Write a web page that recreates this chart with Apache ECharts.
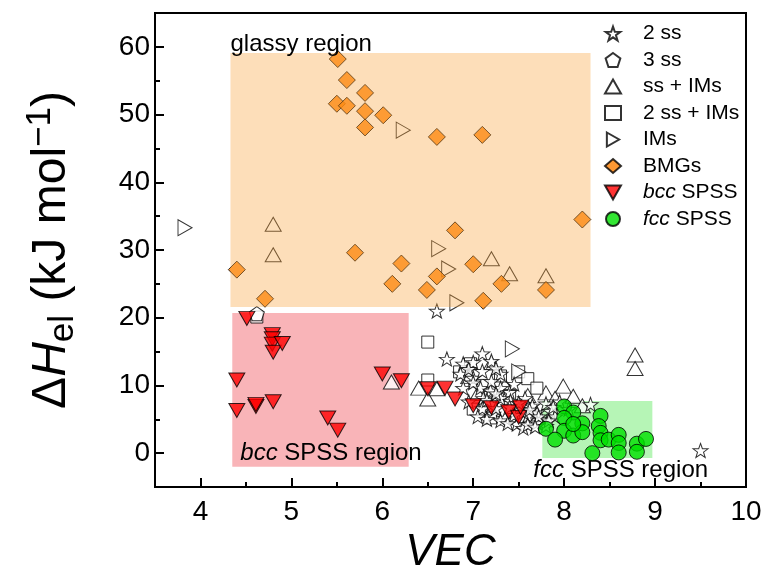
<!DOCTYPE html>
<html>
<head>
<meta charset="utf-8">
<script src="https://cdn.jsdelivr.net/npm/echarts@6/dist/echarts.min.js"></script>
<style>
  html, body { margin: 0; padding: 0; background: #fff; }
  #chart { width: 764px; height: 584px; }
</style>
</head>
<body>
<div id="chart"></div>
<script>
// VEC (x) and elastic enthalpy ΔH_el in kJ/mol (y) for each alloy class
const twoSS = [
  [6.60, 21.0], [6.71, 13.9], [9.50, 0.4], [8.29, 7.2],
  [7.10, 14.7], [6.89, 13.2], [7.00, 13.4], [7.20, 13.6], [6.86, 11.7], [7.00, 11.1],
  [7.10, 12.1], [7.30, 11.7], [6.95, 12.4], [7.25, 12.5],
  [6.89, 9.6], [7.08, 9.6], [7.19, 9.2], [7.30, 9.6], [7.00, 10.4], [7.20, 10.6],
  [7.40, 9.0], [7.45, 10.2], [7.11, 8.1], [7.30, 8.1], [7.41, 7.7], [7.57, 8.1],
  [6.95, 7.6], [7.10, 6.6], [7.20, 7.2], [7.22, 5.8], [7.35, 5.2], [7.48, 4.3],
  [7.55, 3.7], [7.30, 4.8], [7.05, 5.4], [7.50, 6.5], [7.60, 5.5], [7.65, 7.0],
  [7.70, 6.0], [7.75, 5.0], [7.80, 7.3], [7.85, 6.2], [7.90, 5.4], [7.70, 4.5],
  [7.60, 4.2], [7.95, 7.6], [8.05, 6.5], [7.80, 4.0], [7.55, 6.0], [7.40, 6.8],
  [7.15, 7.8], [7.25, 6.6], [7.45, 5.6], [7.62, 6.4], [7.72, 5.4], [7.83, 4.8],
  [7.68, 3.9], [7.38, 4.4], [7.15, 5.0], [7.50, 7.4], [7.88, 6.8], [7.25, 8.8]
];
const threeSS = [[4.62, 20.6]];
const ssIMs = [
  [4.80, 33.8], [4.80, 29.3], [7.20, 28.7], [7.40, 26.5], [7.80, 26.2],
  [8.78, 14.5], [8.78, 12.5], [6.10, 10.5], [6.40, 9.6], [6.50, 8.0], [6.60, 9.5],
  [7.20, 13.3], [6.95, 11.3], [7.99, 9.9], [7.80, 8.9], [8.10, 8.4], [7.90, 8.1],
  [7.35, 10.0], [7.60, 8.5], [7.05, 8.8], [8.20, 7.0]
];
const twoSSIMs = [
  [4.62, 20.1], [6.50, 16.4], [6.50, 10.8], [6.97, 13.2], [7.30, 11.4], [7.50, 12.0],
  [7.60, 11.0], [7.70, 9.6], [7.00, 6.5], [7.19, 5.2], [7.10, 10.0], [6.85, 12.0], [7.40, 8.5]
];
const ims = [
  [3.83, 33.3], [6.23, 47.7], [6.62, 30.2], [6.73, 27.2], [6.82, 22.2], [7.43, 15.4], [7.50, 12.0]
];
const bmgs = [
  [5.51, 58.2], [5.61, 55.1], [5.81, 53.2], [5.50, 51.6], [5.61, 51.3], [5.81, 50.5],
  [6.01, 49.9], [5.81, 48.1], [6.60, 46.7], [7.10, 47.0], [8.20, 34.5], [6.80, 32.9],
  [5.70, 29.6], [4.40, 27.1], [4.71, 22.8], [6.21, 28.0], [6.11, 25.0], [6.60, 26.1],
  [6.49, 24.1], [7.00, 27.9], [7.31, 25.0], [7.80, 24.1], [7.11, 22.5]
];
const bccSPSS = [
  [4.51, 19.9], [4.79, 17.5], [4.79, 16.9], [4.79, 16.1], [4.80, 14.9], [4.90, 16.2],
  [4.40, 10.8], [4.40, 6.3], [4.61, 6.9], [4.61, 7.2], [4.80, 7.6], [5.40, 5.2],
  [5.51, 3.4], [6.00, 11.7], [6.21, 10.7], [6.50, 9.5], [6.69, 9.6], [6.80, 8.0],
  [7.00, 7.0], [7.20, 6.7], [7.39, 6.1], [7.50, 5.3], [7.52, 6.8]
];
const fccSPSS = [
  [8.00, 6.9], [8.10, 6.0], [8.00, 5.2], [8.20, 4.4], [7.80, 3.6], [8.00, 3.3],
  [8.10, 2.6], [7.90, 2.0], [8.20, 3.1], [8.40, 5.5], [8.38, 4.0], [8.40, 3.0],
  [8.40, 1.9], [8.49, 2.0], [8.60, 2.7], [8.60, 1.5], [8.60, 0.1], [8.31, 0.0],
  [8.80, 1.4], [8.80, 0.2], [8.90, 2.1], [8.10, 4.3]
];

// shaded regions: [corner, opposite corner] in data units
const glassyRegion = [[4.33, 59.1], [8.29, 21.6]];
const bccRegion = [[4.35, 20.7], [6.29, -2.0]];
const fccRegion = [[7.76, 7.7], [8.97, -0.7]];

// axis ticks
const xMajorTicks = [4, 5, 6, 7, 8, 9, 10];
const xMinorTicks = [4.5, 5.5, 6.5, 7.5, 8.5, 9.5];
const yMajorTicks = [0, 10, 20, 30, 40, 50, 60];
const yMinorTicks = [5, 15, 25, 35, 45, 55];

const FONT = "Arial, 'Liberation Sans', sans-serif";
const STAR = 'path://M50 0 L61.76 33.82 L97.55 34.55 L69.02 56.18 L79.39 90.45 L50 70 L20.61 90.45 L30.98 56.18 L2.45 34.55 L38.24 33.82 Z';
const PENTAGON = 'path://M50 0 L97.55 34.55 L79.39 90.45 L20.61 90.45 L2.45 34.55 Z';
const RIGHT_TRI = 'path://M0 0 L100 57 L0 114 Z';
const DOWN_TRI = 'path://M0 0 L114 0 L57 100 Z';
const open = { color: '#ffffff', borderColor: '#000000', borderWidth: 1 };

const chart = echarts.init(document.getElementById('chart'), null, { renderer: 'canvas' });

const axisCommon = {
  type: 'value',
  axisLine: { show: true, onZero: false, lineStyle: { color: '#000', width: 2 } },
  splitLine: { show: false },
  axisLabel: { show: true, color: '#000', fontFamily: FONT, fontSize: 28 }
};

chart.setOption({
  animation: false,
  backgroundColor: '#ffffff',
  grid: {
    left: 155, right: 18, top: 13, bottom: 97,
    show: true, borderColor: '#000', borderWidth: 2,
    containLabel: false, outerBoundsMode: 'none'
  },
  xAxis: [
    Object.assign({}, axisCommon, {
      min: 3.5, max: 10, interval: 0.5,
      name: 'VEC', nameLocation: 'middle', nameGap: 36,
      nameTextStyle: { fontFamily: FONT, fontSize: 44, fontStyle: 'italic', color: '#000' },
      axisTick: { show: true, inside: true, length: 9, lineStyle: { width: 2, color: '#000' }, customValues: xMajorTicks },
      axisLabel: Object.assign({}, axisCommon.axisLabel, {
        margin: 11, customValues: xMajorTicks,
        formatter: v => (Number.isInteger(v) ? String(v) : '')
      })
    }),
    Object.assign({}, axisCommon, {
      min: 3.5, max: 10, interval: 0.5, position: 'bottom',
      axisLine: { show: false, onZero: false },
      axisLabel: { show: false },
      axisTick: { show: true, inside: true, length: 5, lineStyle: { width: 2, color: '#000' }, customValues: xMinorTicks }
    })
  ],
  yAxis: [
    Object.assign({}, axisCommon, {
      min: -5, max: 65, interval: 5,
      name: '{t|Δ}{i|H}{s|el}{t| (kJ mol}{p|−1}{t|)}',
      nameLocation: 'middle', nameGap: 74, nameRotate: 90,
      nameTextStyle: {
        color: '#000', fontFamily: FONT, fontSize: 48,
        rich: {
          t: { fontFamily: FONT, fontSize: 48, lineHeight: 58, verticalAlign: 'middle', color: '#000' },
          i: { fontFamily: FONT, fontSize: 48, lineHeight: 58, fontStyle: 'italic', verticalAlign: 'middle', color: '#000' },
          s: { fontFamily: FONT, fontSize: 35, lineHeight: 35, verticalAlign: 'bottom', color: '#000' },
          p: { fontFamily: FONT, fontSize: 35, lineHeight: 35, verticalAlign: 'top', color: '#000' }
        }
      },
      axisTick: { show: true, inside: true, length: 9, lineStyle: { width: 2, color: '#000' }, customValues: yMajorTicks },
      axisLabel: Object.assign({}, axisCommon.axisLabel, {
        margin: 5, customValues: yMajorTicks,
        formatter: v => (v % 10 === 0 ? String(v) : '')
      })
    }),
    Object.assign({}, axisCommon, {
      min: -5, max: 65, interval: 5, position: 'left',
      axisLine: { show: false, onZero: false },
      axisLabel: { show: false },
      axisTick: { show: true, inside: true, length: 5, lineStyle: { width: 2, color: '#000' }, customValues: yMinorTicks }
    })
  ],
  legend: {
    orient: 'vertical',
    left: 604, top: 23, padding: 0,
    itemWidth: 16, itemHeight: 14, itemGap: 5.5,
    data: ['2 ss', '3 ss', 'ss + IMs', '2 ss + IMs', 'IMs', 'BMGs', 'bcc SPSS', 'fcc SPSS'],
    formatter: name => {
      if (name === 'bcc SPSS') return '{i|bcc} SPSS';
      if (name === 'fcc SPSS') return '{i|fcc} SPSS';
      return name;
    },
    textStyle: {
      color: '#000', fontFamily: FONT, fontSize: 21, lineHeight: 21, padding: [0, 0, 0, 17],
      rich: { i: { fontStyle: 'italic', fontFamily: FONT, fontSize: 21, color: '#000' } }
    }
  },
  series: [
    {
      name: 'regions-under', type: 'scatter', data: [], silent: true,
      markArea: {
        silent: true, z: 1,
        data: [
          [
            {
              coord: bccRegion[0],
              itemStyle: { color: '#F9B4B8' },
              label: {
                show: true, position: 'insideBottomLeft', distance: 1, padding: [0, 0, 0, 7],
                formatter: '{i|bcc} SPSS region',
                color: '#000', fontFamily: FONT, fontSize: 24,
                rich: { i: { fontStyle: 'italic', fontFamily: FONT, fontSize: 24, color: '#000' } }
              }
            },
            { coord: bccRegion[1] }
          ],
          [
            {
              coord: fccRegion[0],
              itemStyle: { color: '#B6F5B6' },
              label: {
                show: true, position: [-9, '100%'], align: 'left', verticalAlign: 'top',
                formatter: '{i|fcc} SPSS region',
                color: '#000', fontFamily: FONT, fontSize: 24,
                rich: { i: { fontStyle: 'italic', fontFamily: FONT, fontSize: 24, color: '#000' } }
              }
            },
            { coord: fccRegion[1] }
          ]
        ]
      }
    },
    {
      name: 'ss + IMs', type: 'scatter', data: ssIMs,
      symbol: 'triangle', symbolSize: [16, 14], itemStyle: open
    },
    {
      name: '2 ss + IMs', type: 'scatter', data: twoSSIMs,
      symbol: 'rect', symbolSize: 12, itemStyle: open
    },
    {
      name: 'IMs', type: 'scatter', data: ims,
      symbol: RIGHT_TRI, symbolSize: [14, 16], itemStyle: open
    },
    {
      name: '2 ss', type: 'scatter', data: twoSS,
      symbol: STAR, symbolSize: [15, 14], itemStyle: open
    },
    {
      name: '3 ss', type: 'scatter', data: threeSS,
      symbol: PENTAGON, symbolSize: [15, 14], itemStyle: open
    },
    {
      name: 'BMGs', type: 'scatter', data: bmgs,
      symbol: 'diamond', symbolSize: 17,
      itemStyle: { color: '#FF8000', borderColor: '#000', borderWidth: 1 }
    },
    {
      name: 'bcc SPSS', type: 'scatter', data: bccSPSS,
      symbol: DOWN_TRI, symbolSize: [16, 14],
      itemStyle: { color: '#FF0000', borderColor: '#000', borderWidth: 1 }
    },
    {
      name: 'fcc SPSS', type: 'scatter', data: fccSPSS,
      symbol: 'circle', symbolSize: 15,
      itemStyle: { color: '#00E000', borderColor: '#000', borderWidth: 1 }
    },
    {
      name: 'regions-over', type: 'scatter', data: [], silent: true, z: 5,
      markArea: {
        silent: true, z: 5,
        data: [
          [
            {
              coord: glassyRegion[0],
              itemStyle: { color: 'rgba(249,161,55,0.35)' },
              label: {
                show: true, position: [0, 3], align: 'left', verticalAlign: 'bottom',
                formatter: 'glassy region',
                color: '#000', fontFamily: FONT, fontSize: 24
              }
            },
            { coord: glassyRegion[1] }
          ]
        ]
      }
    }
  ]
});
</script>
</body>
</html>
